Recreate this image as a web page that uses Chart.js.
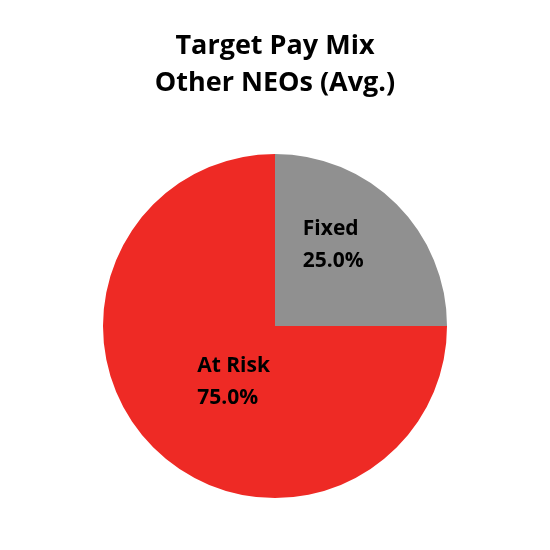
<!DOCTYPE html>
<html><head><meta charset="utf-8">
<script src="https://cdn.jsdelivr.net/npm/chart.js@4"></script>
<style>html,body{margin:0;padding:0;background:#fff}#wrap{width:550px;height:550px}</style>
</head><body><div id="wrap"><canvas id="c"></canvas></div>
<script>
const titleLines = ["Target Pay Mix", "Other NEOs (Avg.)"];
const categories = ["Fixed", "At Risk"];
const values = [25.0, 75.0];
const colors = ["#909090", "#EE2A25"];
// label text offsets relative to slice tooltip position (style only)
const labelOffsets = [[-33, -30], [-17, -15]];

const sliceLabels = {
  id: 'sliceLabels',
  afterDatasetsDraw(chart) {
    const ctx = chart.ctx;
    const meta = chart.getDatasetMeta(0);
    ctx.save();
    ctx.font = 'bold 21px "Open Sans"';
    ctx.fillStyle = '#000';
    ctx.textAlign = 'left';
    ctx.textBaseline = 'alphabetic';
    meta.data.forEach((arc, i) => {
      const p = arc.tooltipPosition();
      const x = p.x + labelOffsets[i][0];
      const y = p.y + labelOffsets[i][1];
      ctx.fillText(categories[i], x, y);
      ctx.fillText(values[i].toFixed(1) + '%', x, y + 32);
    });
    ctx.restore();
  }
};

new Chart(document.getElementById('c'), {
  type: 'pie',
  data: {
    labels: categories,
    datasets: [{ data: values, backgroundColor: colors, borderWidth: 0 }]
  },
  options: {
    responsive: true,
    maintainAspectRatio: false,
    animation: false,
    layout: { padding: { left: 0, right: 0, top: 0, bottom: 52 } },
    plugins: {
      legend: { display: false },
      tooltip: { enabled: false },
      title: {
        display: true,
        text: titleLines,
        color: '#000',
        font: { family: '"Open Sans"', size: 27, weight: 'bold', lineHeight: 1.37 },
        padding: { top: 28, bottom: 52 }
      }
    }
  },
  plugins: [sliceLabels]
});
</script>
</body></html>
